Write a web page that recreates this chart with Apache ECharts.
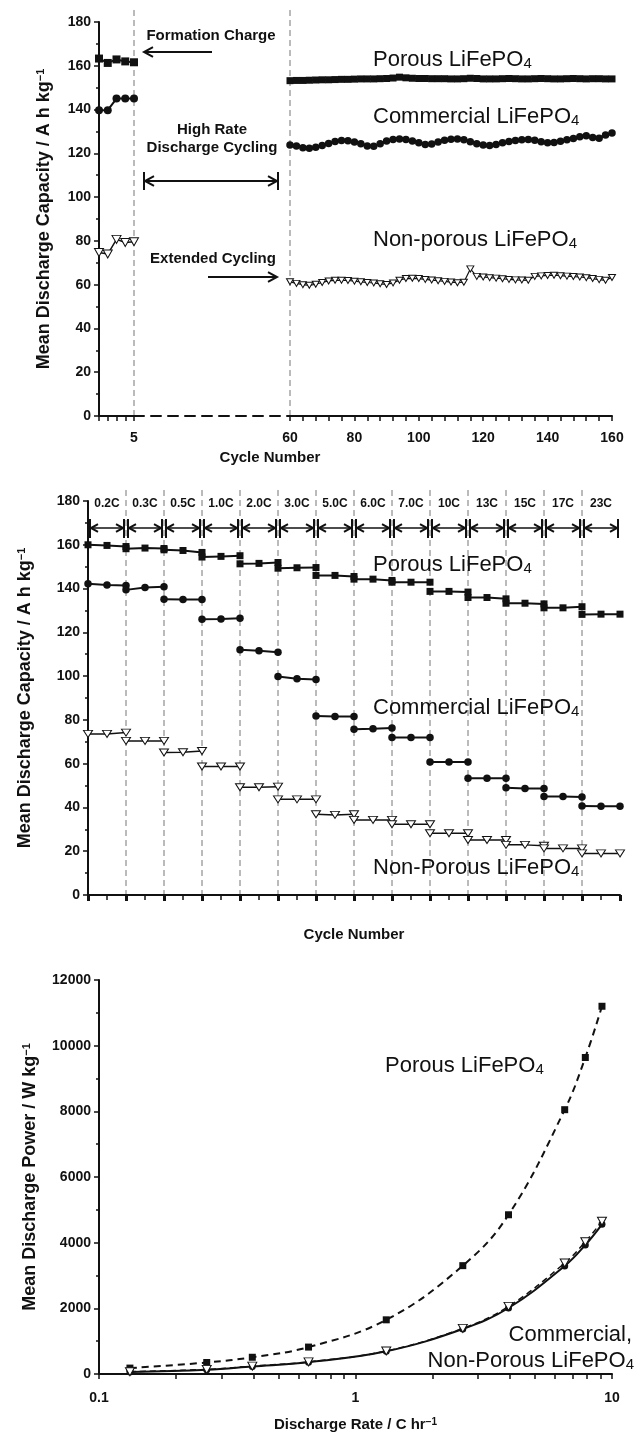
<!DOCTYPE html>
<html>
<head>
<meta charset="utf-8">
<script src="https://cdn.jsdelivr.net/npm/echarts@6/dist/echarts.min.js"></script>
<style>
  html, body { margin: 0; padding: 0; background: #fff; }
  #chart { width: 637px; height: 1434px; }
</style>
</head>
<body>
<div id="chart"></div>
<script>
// panel 1 - formation cycles + extended cycling
const formationCycles = [1, 2, 3, 4, 5];
const formationPorous = [163.3, 161.3, 162.9, 162.0, 161.6];
const formationCommercial = [139.7, 139.7, 145.0, 145.0, 145.0];
const formationNonPorous = [74.7, 74.0, 80.7, 79.3, 79.6];

const extendedCycles = [60, 62, 64, 66, 68, 70, 72, 74, 76, 78, 80, 82, 84, 86, 88, 90, 92, 94, 96, 98,
  100, 102, 104, 106, 108, 110, 112, 114, 116, 118, 120, 122, 124, 126, 128, 130, 132, 134, 136, 138,
  140, 142, 144, 146, 148, 150, 152, 154, 156, 158, 160];
const extendedPorous = [153.2, 153.3, 153.3, 153.4, 153.5, 153.6, 153.6, 153.7, 153.8, 153.8, 153.9,
  154.0, 154.0, 154.0, 154.1, 154.2, 154.4, 154.8, 154.5, 154.3, 154.2, 154.2, 154.1, 154.1, 154.1,
  154.0, 154.0, 154.1, 154.3, 154.2, 154.0, 154.0, 154.0, 154.1, 154.2, 154.1, 154.0, 154.0, 154.1,
  154.2, 154.1, 154.0, 154.0, 154.1, 154.2, 154.1, 154.0, 154.1, 154.1, 154.0, 154.0];
const extendedCommercial = [123.8, 123.3, 122.6, 122.3, 122.8, 123.6, 124.5, 125.4, 125.9, 125.7, 125.2,
  124.4, 123.3, 123.2, 124.4, 125.6, 126.3, 126.5, 126.3, 125.6, 124.8, 124.0, 124.3, 125.2, 126.0,
  126.4, 126.6, 126.2, 125.3, 124.4, 123.8, 123.6, 124.0, 124.8, 125.4, 125.9, 126.2, 126.3, 126.0,
  125.3, 124.8, 124.9, 125.5, 126.2, 126.8, 127.6, 128.0, 127.2, 126.9, 128.4, 129.3];
const extendedNonPorous = [61.3, 60.6, 60.0, 59.7, 60.2, 61.0, 61.7, 62.0, 62.0, 61.9, 61.6, 61.3, 61.0,
  60.8, 60.4, 60.1, 60.8, 62.0, 62.8, 62.9, 62.8, 62.4, 62.1, 61.8, 61.5, 61.2, 60.9, 61.1, 67.2, 63.8,
  63.5, 63.2, 63.0, 62.7, 62.4, 62.2, 62.1, 62.0, 63.8, 64.0, 64.2, 64.3, 64.1, 63.9, 63.7, 63.5, 63.2,
  62.8, 62.3, 62.0, 63.3];

// panel 2 - rate steps, three cycles per rate
const rateLabels = ['0.2C', '0.3C', '0.5C', '1.0C', '2.0C', '3.0C', '5.0C', '6.0C', '7.0C', '10C', '13C', '15C', '17C', '23C'];
const ratePorous = [[160, 159.7, 159.2], [158.2, 158.5, 158.3], [157.7, 157.4, 156.5], [154.4, 154.7, 155],
  [151.3, 151.5, 151.9], [149.3, 149.5, 149.6], [146, 146, 145.5], [144.3, 144.3, 143.7], [142.9, 142.9, 142.9],
  [138.7, 138.7, 138.4], [135.9, 135.9, 135.3], [133.3, 133.3, 133], [131.2, 131.2, 131.7], [128.2, 128.3, 128.3]];
const rateCommercial = [[142.2, 141.6, 141.4], [139.4, 140.5, 140.8], [135.1, 135, 135], [126, 126.1, 126.4],
  [112, 111.6, 110.9], [99.8, 98.8, 98.4], [81.8, 81.6, 81.6], [75.7, 75.9, 76.3], [72, 72, 72],
  [60.8, 60.8, 60.8], [53.3, 53.3, 53.3], [49, 48.7, 48.7], [45, 45, 44.8], [40.7, 40.5, 40.5]];
const rateNonPorous = [[73.6, 73.6, 74.2], [70.4, 70.4, 70.4], [65.1, 65.2, 65.8], [58.7, 58.7, 58.7],
  [49.2, 49.2, 49.5], [43.7, 43.7, 43.7], [36.9, 36.6, 36.9], [34.3, 34.3, 34.3], [32.3, 32.3, 32.3],
  [28.2, 28.2, 28.2], [25.1, 25.1, 25.1], [22.9, 22.9, 22.5], [21.3, 21.3, 21.3], [19, 19, 19]];

// panel 3 - power vs discharge rate
const powerRates = [0.132, 0.263, 0.396, 0.656, 1.318, 2.62, 3.95, 6.54, 7.87, 9.14];
const powerPorous = [180, 350, 510, 820, 1650, 3300, 4850, 8050, 9640, 11200];
const powerCommercial = [60, 130, 230, 360, 690, 1370, 2010, 3290, 3930, 4560];
const powerNonPorous = [70, 140, 240, 370, 700, 1390, 2060, 3380, 4030, 4650];

const FONT = 'Liberation Sans, Arial, Helvetica, sans-serif';
const INK = '#111';

const zip = (xs, ys) => xs.map((x, i) => [x, ys[i]]);

const chart = echarts.init(document.getElementById('chart'), null, { renderer: 'canvas' });

// axis helpers
function baseAxis(extra) {
  return Object.assign({
    axisLine: { show: true, onZero: false, lineStyle: { color: INK, width: 2 } },
    axisTick: { show: true, inside: false, length: 5, lineStyle: { color: INK, width: 1.5 } },
    splitLine: { show: false },
    axisLabel: { color: INK, fontFamily: FONT, fontWeight: 'bold', fontSize: 14, margin: 8,
      formatter: (v) => String(v) }
  }, extra);
}
const minor = { show: true, splitNumber: 2, length: 3, lineStyle: { color: INK, width: 1.5 } };
const yName = (txt, gap) => ({
  name: '{a|' + txt + '}{b|\u22121}',
  nameLocation: 'middle',
  nameRotate: 90,
  nameGap: gap,
  nameTextStyle: {
    rich: {
      a: { fontFamily: FONT, fontWeight: 'bold', fontSize: 18, color: INK },
      b: { fontFamily: FONT, fontWeight: 'bold', fontSize: 11, color: INK, verticalAlign: 'top' }
    }
  }
});

// marker styles
const square = (size) => ({ symbol: 'rect', symbolSize: size, itemStyle: { color: INK } });
const dot = (size) => ({ symbol: 'circle', symbolSize: size, itemStyle: { color: INK } });
const tri = (size) => ({ symbol: 'triangle', symbolSize: size, symbolRotate: 180,
  itemStyle: { color: '#fff', borderColor: INK, borderWidth: 1 } });

function line(xi, data, marker, width, extra) {
  return Object.assign({
    type: 'line', xAxisIndex: xi, yAxisIndex: xi, data: data,
    showAllSymbol: true, animation: false, silent: true,
    lineStyle: { color: INK, width: width },
    emphasis: { disabled: true }
  }, marker, extra || {});
}

const series = [];
// panel 1
series.push(line(0, zip(formationCycles, formationPorous), square(8), 2));
series.push(line(0, zip(formationCycles, formationCommercial), dot(8), 2));
series.push(line(0, zip(formationCycles, formationNonPorous), tri([9, 8]), 1.5));
series.push(line(2, zip(extendedCycles, extendedPorous), square(7), 2));
series.push(line(2, zip(extendedCycles, extendedCommercial), dot(7.5), 2.5));
series.push(line(2, zip(extendedCycles, extendedNonPorous), tri([7, 6]), 1.2));
// panel 2: one short series per rate step
rateLabels.forEach((r, i) => {
  const pts = (vals) => vals.map((v, j) => [2 * i + j, v]);
  series.push(line(3, pts(ratePorous[i]), square(7), 2));
  series.push(line(3, pts(rateCommercial[i]), dot(7.5), 2));
  series.push(line(3, pts(rateNonPorous[i]), tri([9, 7]), 1.5));
});
// panel 3
series.push(line(4, zip(powerRates, powerPorous), square(7), 2, { smooth: 0.4, lineStyle: { color: INK, width: 2, type: [7, 5] } }));
series.push(line(4, zip(powerRates, powerCommercial), dot(7), 2, { smooth: 0.4 }));
series.push(line(4, zip(powerRates, powerNonPorous), tri([9, 8]), 1.5, { smooth: 0.4, lineStyle: { color: INK, width: 1.5, type: [6, 4] } }));

const logTicks = [0.1, 0.2, 0.3, 0.4, 0.5, 0.6, 0.7, 0.8, 0.9, 1, 2, 3, 4, 5, 6, 7, 8, 9, 10];

const option = {
  backgroundColor: '#fff',
  animation: false,
  grid: [
    { left: 99, top: 22, width: 35, height: 394, outerBoundsMode: 'none' },
    { left: 134, top: 22, width: 156, height: 394, outerBoundsMode: 'none' },
    { left: 290, top: 22, width: 322, height: 394, outerBoundsMode: 'none' },
    { left: 88, top: 501, width: 532, height: 394, outerBoundsMode: 'none' },
    { left: 99, top: 980, width: 513, height: 394, outerBoundsMode: 'none' }
  ],
  xAxis: [
    baseAxis({ gridIndex: 0, type: 'value', min: 1, max: 5, interval: 1,
      axisLabel: { color: INK, fontFamily: FONT, fontWeight: 'bold', fontSize: 14, margin: 15,
        formatter: (v) => (v === 5 ? '5' : '') } }),
    baseAxis({ gridIndex: 1, type: 'value', min: 0, max: 1,
      axisLine: { show: true, onZero: false, lineStyle: { color: INK, width: 2, type: [10, 7] } },
      axisTick: { show: false }, axisLabel: { show: false } }),
    baseAxis({ gridIndex: 2, type: 'value', min: 60, max: 160, interval: 4,
      axisLabel: { color: INK, fontFamily: FONT, fontWeight: 'bold', fontSize: 14, margin: 15,
        formatter: (v) => (v % 20 === 0 ? String(v) : '') } }),
    baseAxis({ gridIndex: 3, type: 'value', min: 0, max: 28, interval: 1,
      axisLabel: { show: false },
      name: 'Cycle Number', nameLocation: 'middle', nameGap: 32,
      nameTextStyle: { fontFamily: FONT, fontWeight: 'bold', fontSize: 15, color: INK } }),
    baseAxis({ gridIndex: 4, type: 'log', logBase: 10, min: 0.1, max: 10,
      axisTick: { show: true, inside: false, length: 5, customValues: logTicks, lineStyle: { color: INK, width: 1.5 } },
      axisLabel: { color: INK, fontFamily: FONT, fontWeight: 'bold', fontSize: 14, margin: 17,
        customValues: [0.1, 1, 10], formatter: (v) => String(+v.toPrecision(3)) },
      name: '{a|Discharge Rate / C hr}{b|\u22121}', nameLocation: 'middle', nameGap: 43,
      nameTextStyle: { rich: {
        a: { fontFamily: FONT, fontWeight: 'bold', fontSize: 15, color: INK },
        b: { fontFamily: FONT, fontWeight: 'bold', fontSize: 10, color: INK, verticalAlign: 'top' } } } }),
    // heavier ticks at the rate-step boundaries of panel 2
    { gridIndex: 3, type: 'value', min: 0, max: 28, interval: 2, position: 'bottom',
      axisLine: { show: false }, axisLabel: { show: false }, splitLine: { show: false },
      axisTick: { show: true, length: 6, lineStyle: { color: INK, width: 3 } } }
  ],
  yAxis: [
    baseAxis(Object.assign({ gridIndex: 0, type: 'value', min: 0, max: 180, interval: 20, minorTick: minor },
      yName('Mean Discharge Capacity / A h kg', 46))),
    { gridIndex: 1, type: 'value', min: 0, max: 180, show: false },
    { gridIndex: 2, type: 'value', min: 0, max: 180, show: false },
    baseAxis(Object.assign({ gridIndex: 3, type: 'value', min: 0, max: 180, interval: 20, minorTick: minor },
      yName('Mean Discharge Capacity / A h kg', 54))),
    baseAxis(Object.assign({ gridIndex: 4, type: 'value', min: 0, max: 12000, interval: 2000, minorTick: minor },
      yName('Mean Discharge Power / W kg', 60)))
  ],
  series: series
};

chart.setOption(option);

// ---- annotations, placed through the axes ----
const px = (xi, v) => chart.convertToPixel({ xAxisIndex: xi }, v);
const py = (yi, v) => chart.convertToPixel({ yAxisIndex: yi }, v);

const g = [];
const seg = (x1, y1, x2, y2, w, dash, color) => g.push({ type: 'line', silent: true,
  shape: { x1: x1, y1: y1, x2: x2, y2: y2 },
  style: { stroke: color || INK, lineWidth: w, lineDash: dash || null } });
const head = (x, y, dir, s) => g.push({ type: 'polyline', silent: true,
  shape: { points: [[x - dir * s, y - s * 0.55], [x, y], [x - dir * s, y + s * 0.55]] },
  style: { stroke: INK, lineWidth: 2, fill: null } });
const txt = (x, y, text, size, weight, align) => g.push({ type: 'text', silent: true, x: x, y: y,
  style: { text: text, fontFamily: FONT, fontSize: size, fontWeight: weight || 'normal', fill: INK,
    align: align || 'center', verticalAlign: 'middle' } });
const chem = (x, y, name, align) => g.push({ type: 'text', silent: true, x: x, y: y,
  style: { text: '{m|' + name + '}{s|4}', align: align || 'left', verticalAlign: 'middle',
    rich: { m: { fontFamily: FONT, fontSize: 22, fill: INK, verticalAlign: 'bottom' },
            s: { fontFamily: FONT, fontSize: 15, fill: INK, verticalAlign: 'bottom' } } } });

// panel 1
const xCut1 = px(0, 5), xCut2 = px(2, 60), yBase1 = py(0, 0);
seg(xCut1, 10, xCut1, yBase1, 1, [6, 4], '#777');
seg(xCut2, 10, xCut2, yBase1, 1, [6, 4], '#777');
txt(211, 36, 'Formation Charge', 15, 'bold');
seg(145, 52, 212, 52, 2); head(144, 52, -1, 9);
txt(212, 130, 'High Rate', 15, 'bold');
txt(212, 148, 'Discharge Cycling', 15, 'bold');
seg(145, 181, 277, 181, 2); head(145, 181, -1, 9); head(277, 181, 1, 9);
seg(144, 172, 144, 190, 2); seg(278, 172, 278, 190, 2);
txt(213, 259, 'Extended Cycling', 15, 'bold');
seg(208, 277, 276, 277, 2); head(277, 277, 1, 9);
chem(373, 60, 'Porous LiFePO');
chem(373, 117, 'Commercial LiFePO');
chem(373, 240, 'Non-porous LiFePO');
txt(270, 458, 'Cycle Number', 15, 'bold');

// panel 2
const yBase2 = py(3, 0);
rateLabels.forEach((r, i) => {
  const x0 = px(3, 2 * i), x1 = px(3, 2 * i + 2);
  if (i > 0) seg(x0, 490, x0, yBase2, 1, [6, 4], '#777');
  txt((x0 + x1) / 2, 504, r, 12, 'bold');
  const ya = 528;
  seg(x0 + 2, 519, x0 + 2, 538, 2); seg(x1 - 2, 519, x1 - 2, 538, 2);
  seg(x0 + 3, ya, x1 - 3, ya, 1.5);
  head(x0 + 3, ya, -1, 7); head(x1 - 3, ya, 1, 7);
});
chem(373, 565, 'Porous LiFePO');
chem(373, 708, 'Commercial LiFePO');
chem(373, 868, 'Non-Porous LiFePO');

// panel 3
chem(385, 1066, 'Porous LiFePO');
txt(632, 1335, 'Commercial,', 22, 'normal', 'right');
chem(634, 1361, 'Non-Porous LiFePO', 'right');

chart.setOption({ graphic: { elements: g } });
</script>
</body>
</html>
